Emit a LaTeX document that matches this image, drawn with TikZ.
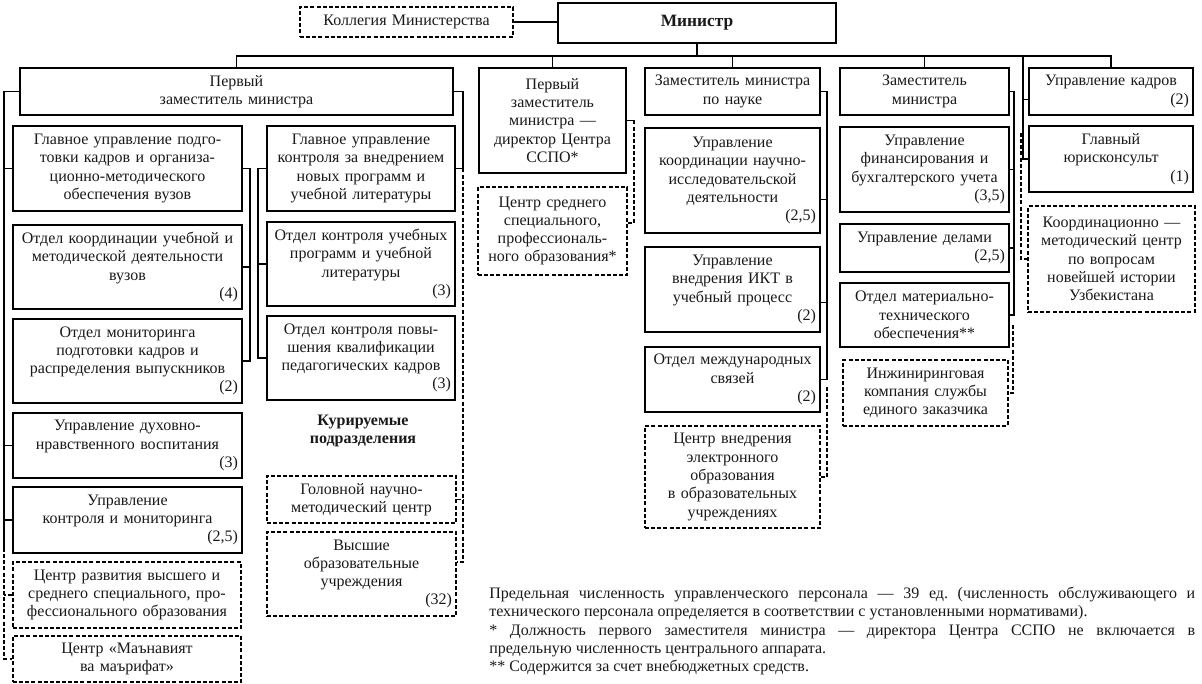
\documentclass[tikz,border=0pt]{standalone}
\usepackage{fontspec}
\setmainfont{Liberation Serif}
\frenchspacing
\newcommand\fs{\fontsize{12pt}{13.7pt}\selectfont}
\newcommand\nm[1]{\\\hfill #1\hspace*{1.5pt}}
\tikzset{
  obox/.style={draw, line width=0.9pt, rectangle, align=center, inner xsep=1.5pt, inner ysep=1pt, font=\fs, text=black!90},
  dbox/.style={obox, line width=1.15pt, dash pattern=on 3pt off 1.6pt},
  con/.style={line width=0.8pt},
  dcon/.style={line width=1.15pt, dash pattern=on 3pt off 1.6pt},
}
\newcommand\bx[7][]{%
  \pgfmathsetmacro\bxw{(#5-#3)*0.75}%
  \pgfmathsetmacro\bxh{(#6-#4)*0.75}%
  \pgfmathsetmacro\bxt{(#5-#3)*0.75-3}%
  \node[obox,#1,minimum width=\bxw pt,minimum height=\bxh pt,text width=\bxt pt] (#2) at ({(#3+#5)/2},{(#4+#6)/2}) {#7};}
\begin{document}
\begin{tikzpicture}[x=0.75pt,y=-0.75pt]
\fill[white] (0,0) rectangle (1202,684);
\useasboundingbox (0,0) rectangle (1202,684);
% top
\bx[dbox]{kol}{300}{7}{513}{37}{Коллегия Министерства}
\bx[font=\fontsize{13pt}{15pt}\selectfont\bfseries]{min}{558}{3}{836}{43}{Министр}
\bx{fz1}{20}{68}{453}{115}{Первый\\заместитель министра}
\bx{fz2}{479}{68}{626}{173}{Первый\\заместитель\\министра —\\директор Центра\\ССПО*}
\bx{zn}{645}{68}{820}{115}{Заместитель министра\\по науке}
\bx{zm}{840}{68}{1009}{115}{Заместитель\\министра}
\bx{uk}{1029}{68}{1193}{115}{Управление кадров\nm{(2)}}
\bx{gyu}{1029}{126}{1193}{192}{Главный\\юрисконсульт\nm{(1)}}
\bx[dbox]{kmc}{1028}{206}{1195}{312}{Координационно —\\методический центр\\по вопросам\\новейшей истории\\Узбекистана}
% column 1
\bx{c1a}{13}{126}{242}{211}{Главное управление подго-\\товки кадров и организа-\\ционно-методического\\обеспечения вузов}
\bx{c1b}{13}{225}{242}{309}{Отдел координации учебной и\\методической деятельности\\вузов\nm{(4)}}
\bx{c1c}{13}{319}{242}{403}{Отдел мониторинга\\подготовки кадров и\\распределения выпускников\nm{(2)}}
\bx{c1d}{13}{413}{242}{478}{Управление духовно-\\нравственного воспитания\nm{(3)}}
\bx{c1e}{13}{487}{242}{553}{Управление\\контроля и мониторинга\nm{(2,5)}}
\bx[dbox]{c1f}{13}{562}{241}{628}{Центр развития высшего и\\среднего специального, про-\\фессионального образования}
\bx[dbox]{c1g}{13}{636}{241}{682}{Центр «Маънавият\\ва маърифат»}
% column 2
\bx{c2a}{267}{126}{455}{211}{Главное управление\\контроля за внедрением\\новых программ и\\учебной литературы}
\bx{c2b}{267}{222}{455}{306}{Отдел контроля учебных\\программ и учебной\\литературы\nm{(3)}}
\bx{c2c}{267}{316}{455}{400}{Отдел контроля повы-\\шения квалификации\\педагогических кадров\nm{(3)}}
\node[font=\fs\bfseries, align=center, text=black!90] (kur) at (363,431) {Курируемые\\подразделения};
\bx[dbox]{c2d}{267}{476}{456}{523}{Головной научно-\\методический центр}
\bx[dbox]{c2e}{267}{532}{456}{616}{Высшие\\образовательные\\учреждения\nm{(32)}}
% SSPO
\bx[dbox]{cs}{478}{187}{627}{275}{Центр среднего\\специального,\\профессиональ-\\ного образования*}
% science
\bx{zn1}{645}{128}{820}{233}{Управление\\координации научно-\\исследовательской\\деятельности\nm{(2,5)}}
\bx{zn2}{645}{247}{820}{332}{Управление\\внедрения ИКТ в\\учебный процесс\nm{(2)}}
\bx{zn3}{645}{347}{820}{412}{Отдел международных\\связей\nm{(2)}}
\bx[dbox]{zn4}{645}{426}{820}{528}{Центр внедрения\\электронного\\образования\\в образовательных\\учреждениях}
% deputy
\bx{zm1}{840}{127}{1009}{212}{Управление\\финансирования и\\бухгалтерского учета\nm{(3,5)}}
\bx{zm2}{840}{224}{1009}{272}{Управление делами\nm{(2,5)}}
\bx{zm3}{840}{283}{1009}{347}{Отдел материально-\\технического\\обеспечения**}
\bx[dbox]{zm4}{843}{360}{1008}{426}{Инжиниринговая\\компания службы\\единого заказчика}
% footnote
\node[anchor=north west, inner sep=0pt, text=black!90] (fn) at (489,587) {\parbox[t]{529.5pt}{\fs\setlength{\parindent}{0pt}\hyphenpenalty=10000
Предельная численность управленческого персонала — 39 ед. (численность обслуживающего и\linebreak технического персонала определяется в соответствии с установленными нормативами).\par
* Должность первого заместителя министра — директора Центра ССПО не включается в\linebreak предельную численность центрального аппарата.\par
** Содержится за счет внебюджетных средств.}};
% connectors
\coordinate (bus) at (697,56);
\draw[con] (kol.east) -- (kol.east -| min.west);
\draw[con] (min.south) -- (min.south |- bus);
\draw[con] (fz1.north) -- (fz1.north |- bus) -- (uk.north |- bus) -- (uk.north);
\draw[con] (fz2.north) -- (fz2.north |- bus);
\draw[con] (zn.north) -- (zn.north |- bus);
\draw[con] (zm.north) -- (zm.north |- bus);
% right trunk
\coordinate (tR) at (1023,56);
\draw[con] (tR) |- (gyu.west);
\draw[con] ([yshift=-6pt]uk.west) -- ([yshift=-6pt]uk.west -| tR);
\coordinate (tRd) at (1021,133);
\draw[dcon] (tRd) |- (kmc.west);
% left trunk
\coordinate (tL) at (4,548);
\draw[con] (fz1.west) -| (tL);
\foreach \n in {c1a,c1d,c1e} \draw[con] (\n.west) -- (\n.west -| tL);
\draw[dcon] (tL) |- (c1g.west);
\draw[dcon] (c1f.west) -- (c1f.west -| tL);
% column 1 right
\coordinate (t1) at (250,0);
\draw[con] (c1a.east) -| (t1 |- c1c.east) -- (c1c.east);
\draw[con] (c1b.east) -- (c1b.east -| t1);
% column 2 left
\coordinate (t2) at (258,0);
\draw[con] (c2a.west) -| (t2 |- c2c.west) -- (c2c.west);
\draw[con] (c2b.west) -- (c2b.west -| t2);
% first deputy right
\coordinate (tF) at (463,0);
\draw[con] (fz1.east) -| (tF |- c2a.east) -- (c2a.east);
\draw[dcon] (tF |- c2a.east) |- ([yshift=9pt]c2e.east);
\draw[dcon] (c2d.east) -- (c2d.east -| tF);
% SSPO
\coordinate (tS) at (634,0);
\draw[con] (fz2.east) -- (fz2.east -| tS);
\draw[dcon] (fz2.east -| tS) |- ([yshift=6pt]cs.east);
% science
\coordinate (tN) at (827,0);
\draw[con] (zn.east) -| (tN |- zn3.east) -- (zn3.east);
\draw[con] ([yshift=-14.6pt]zn1.east) -- ([yshift=-14.6pt]zn1.east -| tN);
\draw[con] ([yshift=-10pt]zn2.east) -- ([yshift=-10pt]zn2.east -| tN);
\coordinate (tNd) at (827,387);
\draw[dcon] (tNd) |- (zn4.east);
% deputy
\coordinate (tM) at (1014,0);
\draw[con] (zm.east) -| (tM |- zm3.east) -- (zm3.east);
\foreach \n in {zm1,zm2} \draw[con] (\n.east) -- (\n.east -| tM);
\coordinate (tMd) at (1013,325);
\draw[dcon] (tMd) |- (zm4.east);
\end{tikzpicture}
\end{document}
